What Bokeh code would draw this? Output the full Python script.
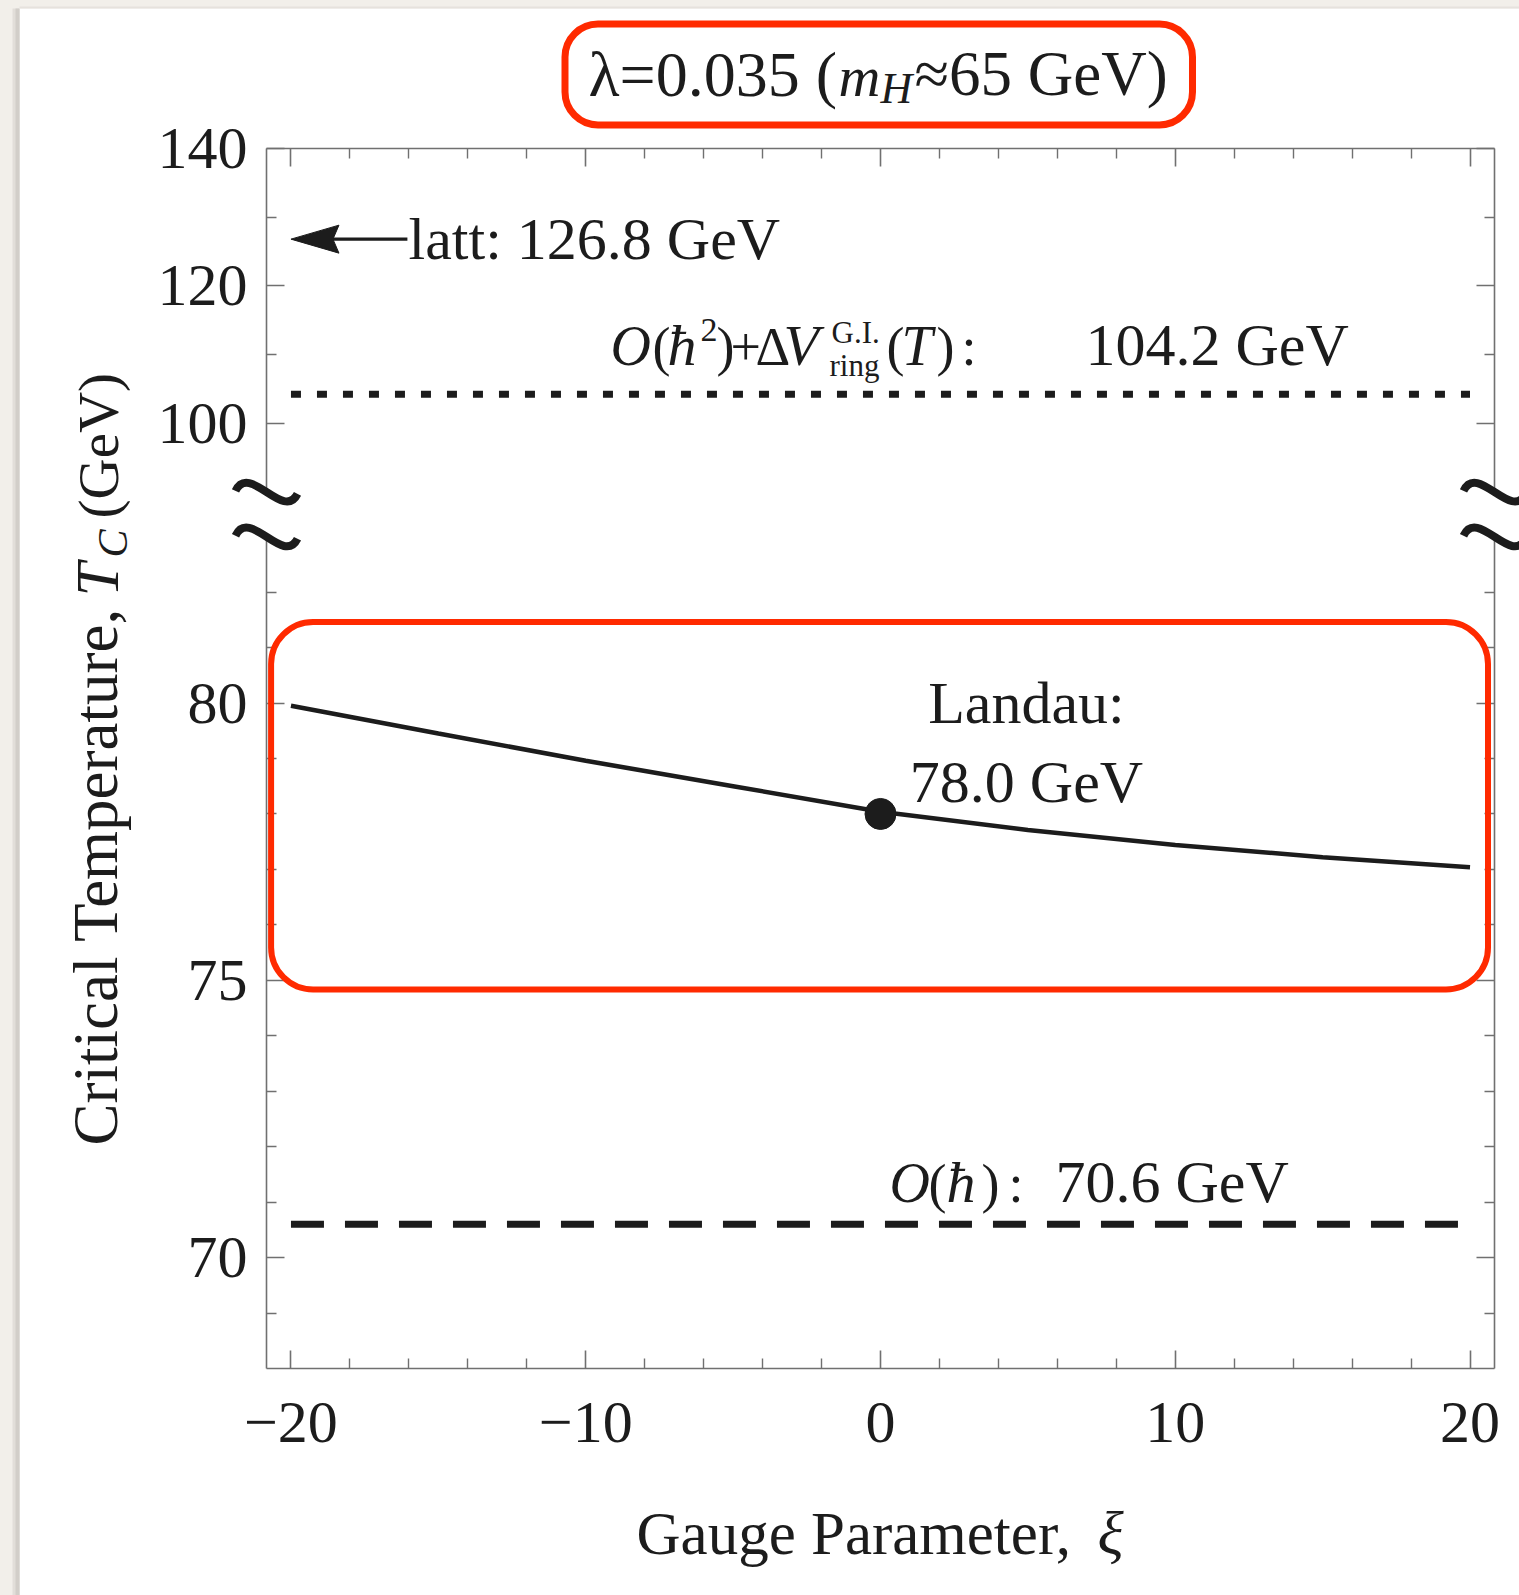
import math
from bokeh.plotting import figure
from bokeh.models import (Range1d, LinearAxis, FixedTicker, CustomJSTickFormatter,
                          BoxAnnotation)
from bokeh.core.properties import value
from bokeh.embed import file_html
from bokeh.resources import INLINE

# ---------------- data ----------------
xi_curve = [-20, -15, -10, -5, 0, 5, 10, 15, 20]
tc_curve = [79.95, 79.45, 78.96, 78.50, 78.04, 77.71, 77.44, 77.22, 77.04]
xi_landau = [0.0]
tc_landau = [78.0]
xi_span = [-20.0, 20.0]
tc_ohbar = 70.6
tc_ohbar2 = 104.2
tc_latt = 126.8
xi_latt_arrow = [-16.05, -20.0]   # tail (at text), tip

x_ticks = [-20, -10, 0, 10, 20]
x_minor = [-18, -16, -14, -12, -8, -6, -4, -2, 2, 4, 6, 8, 12, 14, 16, 18]
y_low_ticks = [70, 75, 80]
y_low_minor = [69, 71, 72, 73, 74, 76, 77, 78, 79, 81, 82]
y_up_ticks = [100, 120, 140]
y_up_minor = [110, 130]
brk_low, brk_up = 83.0, 90.0

# ---------------- geometry ----------------
W, H = 1519, 1595
FL, FR, FT, FB = 266, 1494, 148, 1368
XR = (-20.83, 20.83)
YLO = (68.0, 90.0)
YUP = (-37.65, 140.0)
PX_X = (FR - FL) / (XR[1] - XR[0])        # px per xi unit
PX_LO = (FB - FT) / (YLO[1] - YLO[0])     # px per GeV (lower part)
PX_UP = (FB - FT) / (YUP[1] - YUP[0])     # px per GeV (upper part)

INK = "#1c1c1c"
FRAME = "#707070"
RED = "#ff2a00"
BEIGE = "#f2efea"
FONT = "Liberation Serif"


def up2lo(v):
    return YLO[0] + (v - YUP[0]) * (YLO[1] - YLO[0]) / (YUP[1] - YUP[0])


def dx(px):
    return XR[0] + (px - FL) / PX_X


def dy(py):
    return YLO[0] + (FB - py) / PX_LO


p = figure(width=W, height=H, x_range=Range1d(*XR), y_range=Range1d(*YLO),
           output_backend="svg", toolbar_location=None,
           x_axis_location=None, y_axis_location=None,
           min_border_left=FL, min_border_right=W - FR,
           min_border_top=FT, min_border_bottom=H - FB,
           background_fill_color="white", border_fill_color="white",
           outline_line_color=None)
p.grid.visible = False
p.extra_y_ranges = {"upper": Range1d(*YUP)}

xticker = FixedTicker(ticks=x_ticks, minor_ticks=x_minor)
yticker = FixedTicker(ticks=y_low_ticks + [up2lo(v) for v in y_up_ticks],
                      minor_ticks=y_low_minor + [up2lo(v) for v in y_up_minor])
xfmt = CustomJSTickFormatter(code="return tick < 0 ? '\u2212' + Math.abs(tick) : String(tick);")
yfmt = CustomJSTickFormatter(
    args=dict(lo0=YLO[0], lo1=YLO[1], up0=YUP[0], up1=YUP[1], brk=(brk_low + up2lo(brk_up)) / 2),
    code="""
if (tick > brk) { return String(Math.round(up0 + (tick - lo0) * (up1 - up0) / (lo1 - lo0))); }
return String(Math.round(tick));
""")
blank = CustomJSTickFormatter(code="return '';")


def mk_axis(ticker, fmt, standoff):
    return LinearAxis(ticker=ticker, formatter=fmt,
                      axis_line_color=FRAME, axis_line_width=1.6,
                      major_tick_line_color=FRAME, major_tick_line_width=1.6,
                      minor_tick_line_color=FRAME, minor_tick_line_width=1.4,
                      major_tick_in=18, major_tick_out=0,
                      minor_tick_in=10, minor_tick_out=0,
                      major_label_standoff=standoff,
                      major_label_text_font=FONT, major_label_text_font_size="60px",
                      major_label_text_color=INK)


p.add_layout(mk_axis(yticker, yfmt, 19), "left")
p.add_layout(mk_axis(yticker, blank, 5), "right")
p.add_layout(mk_axis(xticker, xfmt, 34), "below")
p.add_layout(mk_axis(xticker, blank, 5), "above")

# ---------------- marks ----------------
p.line(xi_curve, tc_curve, line_width=4.5, color=INK)
p.scatter(xi_landau, tc_landau, size=31, color=INK)
p.line(xi_span, [tc_ohbar, tc_ohbar], line_width=7, line_dash="33 21", color=INK)
p.line(xi_span, [tc_ohbar2, tc_ohbar2], line_width=7, line_dash="10 16", color=INK,
       y_range_name="upper")

# lattice arrow: shaft + slender filled head
tip = xi_latt_arrow[1]
head_len, head_notch, head_half = 48 / PX_X, 42 / PX_X, 14 / PX_UP
p.line([xi_latt_arrow[0], tip + head_notch], [tc_latt, tc_latt], line_width=3.2,
       color=INK, y_range_name="upper")
p.patch([tip, tip + head_len, tip + head_notch, tip + head_len],
        [tc_latt, tc_latt + head_half, tc_latt, tc_latt - head_half],
        fill_color=INK, line_color=INK, line_width=1, y_range_name="upper")
p.text(x=[dx(408)], y=[tc_latt], text=["latt: 126.8 GeV"], y_range_name="upper",
       text_font=value(FONT), text_font_size=value("60px"), text_align="left",
       text_baseline="middle", text_color=INK)

# Landau highlight box
p.add_layout(BoxAnnotation(left=dx(270.6), right=dx(1487.5), top=dy(621.6), bottom=dy(989),
                           fill_alpha=0, line_color=RED, line_alpha=1, line_width=6,
                           border_radius=42))


# ---------------- decorations drawn above the frame clip ----------------
def quad(l, r, t, b, **kw):
    p.quad(left=[dx(l)], right=[dx(r)], top=[dy(t)], bottom=[dy(b)], level="overlay", **kw)


# page background strips and panel shadow
quad(-10, 19, -10, H + 10, fill_color=BEIGE, line_color=None)
quad(-10, W + 10, -10, 8, fill_color=BEIGE, line_color=None)
quad(12, 19, 8, H + 10, fill_color="#e2ded9", line_color=None)
quad(15, 19, 8, H + 10, fill_color="#d2cec9", line_color=None)
quad(19, W + 10, 6, 8, fill_color="#e6e2dd", line_color=None)

# title box
quad(564.5, 1192, 23.5, 124.5, fill_alpha=0, line_color=RED, line_width=7, border_radius=33)

# axis break: white gap, then wavy break marks
for xe in XR:
    p.quad(left=[xe - 0.2], right=[xe + 0.2], bottom=[brk_low], top=[up2lo(brk_up)],
           fill_color="white", line_color=None, level="overlay")
# wave shape offsets in pixels (x right, y down) relative to the break point
wave = dict(x0=-31, y0=-1, cx0=-17, cy0=-30, cx1=17, cy1=30, x1=31, y1=2)
for xe in XR:
    for yc in (up2lo(brk_up), brk_low):
        p.bezier(x0=[xe + wave["x0"] / PX_X], y0=[yc - wave["y0"] / PX_LO],
                 x1=[xe + wave["x1"] / PX_X], y1=[yc - wave["y1"] / PX_LO],
                 cx0=[xe + wave["cx0"] / PX_X], cy0=[yc - wave["cy0"] / PX_LO],
                 cx1=[xe + wave["cx1"] / PX_X], cy1=[yc - wave["cy1"] / PX_LO],
                 line_width=8, line_color=INK, level="overlay")


def lab(text, px, base, size=60, style="normal", align="left", angle=0.0, mid=None):
    """base = baseline position in pixels (y for horizontal, x for vertical text)"""
    off = 0.35 * size
    if angle == 0.0:
        x, y = dx(px), dy(base - off if mid is None else mid)
    else:
        x, y = dx(base - off), dy(px)
    p.text(x=[x], y=[y], text=[text], level="overlay",
           text_font=value(FONT), text_font_size=value(f"{size}px"),
           text_font_style=style, text_align=align, text_baseline="middle",
           angle=angle, text_color=INK)


# title
lab("λ=0.035 (", 588, 96, 64)
lab("m", 838, 96, 58, "italic")
lab("H", 880, 103, 44, "italic")
lab("≈65 GeV)", 914, 96, 63)

# O(hbar^2) + ring annotation
for t, px, py, sz, st in [
    ("O", 610, 365, 56, "italic"),
    ("(", 652, 365, 54, "normal"),
    ("ħ", 667, 365, 58, "italic"),
    ("2", 700, 341, 34, "normal"),
    (")", 716, 365, 54, "normal"),
    ("+", 730, 365, 54, "normal"),
    ("Δ", 755, 365, 54, "normal"),
    ("V", 783, 365, 58, "italic"),
    ("G.I.", 831, 343, 31, "normal"),
    ("ring", 829, 376, 31, "normal"),
    ("(", 886, 365, 54, "normal"),
    ("T", 901, 365, 56, "italic"),
    (")", 936, 365, 54, "normal"),
    (":", 961, 365, 54, "normal"),
    ("104.2 GeV", 1085, 365, 60, "normal"),
]:
    lab(t, px, py, sz, st)

# O(hbar) annotation
for t, px, py, sz, st in [
    ("O", 889, 1202, 56, "italic"),
    ("(", 928, 1202, 54, "normal"),
    ("ħ", 946, 1202, 58, "italic"),
    (")", 981, 1202, 54, "normal"),
    (":", 1008, 1202, 54, "normal"),
    ("70.6 GeV", 1055, 1202, 60, "normal"),
]:
    lab(t, px, py, sz, st)

# Landau annotation
lab("Landau:", 1026, 0, 60, align="center", mid=702)
lab("78.0 GeV", 1026, 0, 60, align="center", mid=781)

# axis titles
lab("Gauge Parameter,", 636, 1554, 61)
lab("ξ", 1097, 1554, 61, "italic")
A = math.pi / 2
lab("Critical Temperature,", 1145, 118, 63, angle=A)
lab("T", 596, 118, 61, "italic", angle=A)
lab("C", 557, 127, 42, "italic", angle=A)
lab("(GeV)", 518, 118, 57, angle=A)

open("out.html", "w").write(file_html(p, INLINE))
